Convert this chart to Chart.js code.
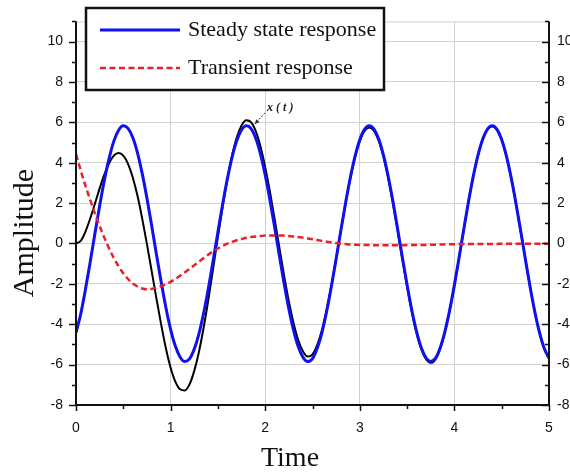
<!DOCTYPE html>
<html>
<head>
<meta charset="utf-8">
<script src="https://cdn.jsdelivr.net/npm/chart.js@4.4.1/dist/chart.umd.min.js"></script>
<style>
    html, body { margin: 0; padding: 0; background: #ffffff; }
    #responseChart { display: block; }
</style>
</head>
<body>
<canvas id="responseChart" width="570" height="472"></canvas>
<script>

// sample times (s)
const timeValues = [
    0.00, 0.05, 0.10, 0.15, 0.20, 0.25, 0.30, 0.35, 0.40, 0.45,
    0.50, 0.55, 0.60, 0.65, 0.70, 0.75, 0.80, 0.85, 0.90, 0.95,
    1.00, 1.05, 1.10, 1.15, 1.20, 1.25, 1.30, 1.35, 1.40, 1.45,
    1.50, 1.55, 1.60, 1.65, 1.70, 1.75, 1.80, 1.85, 1.90, 1.95,
    2.00, 2.05, 2.10, 2.15, 2.20, 2.25, 2.30, 2.35, 2.40, 2.45,
    2.50, 2.55, 2.60, 2.65, 2.70, 2.75, 2.80, 2.85, 2.90, 2.95,
    3.00, 3.05, 3.10, 3.15, 3.20, 3.25, 3.30, 3.35, 3.40, 3.45,
    3.50, 3.55, 3.60, 3.65, 3.70, 3.75, 3.80, 3.85, 3.90, 3.95,
    4.00, 4.05, 4.10, 4.15, 4.20, 4.25, 4.30, 4.35, 4.40, 4.45,
    4.50, 4.55, 4.60, 4.65, 4.70, 4.75, 4.80, 4.85, 4.90, 4.95,
    5.00
];

const steadyState = [
    -4.42, -3.49, -2.27, -0.92, 0.49, 1.87, 3.14, 4.22, 5.07, 5.61,
    5.83, 5.70, 5.25, 4.49, 3.46, 2.24, 0.88, -0.53, -1.90, -3.17,
    -4.25, -5.08, -5.62, -5.85, -5.72, -5.23, -4.46, -3.43, -2.20, -0.84,
    0.57, 1.94, 3.20, 4.28, 5.10, 5.63, 5.83, 5.69, 5.21, 4.43,
    3.39, 2.16, 0.80, -0.61, -1.98, -3.24, -4.30, -5.12, -5.64, -5.85,
    -5.70, -5.19, -4.41, -3.36, -2.12, -0.76, 0.65, 2.02, 3.27, 4.33,
    5.14, 5.65, 5.83, 5.67, 5.18, 4.38, 3.33, 2.09, 0.72, -0.69,
    -2.06, -3.31, -4.36, -5.16, -5.66, -5.85, -5.68, -5.16, -4.35, -3.30,
    -2.05, -0.68, 0.73, 2.10, 3.34, 4.39, 5.18, 5.67, 5.83, 5.65,
    5.14, 4.33, 3.26, 2.01, 0.64, -0.77, -2.14, -3.38, -4.42, -5.20,
    -5.68
];

const transient = [
    4.42, 3.62, 2.86, 2.16, 1.48, 0.86, 0.28, -0.25, -0.72, -1.13,
    -1.48, -1.76, -1.98, -2.13, -2.23, -2.27, -2.25, -2.19, -2.11, -2.02,
    -1.90, -1.76, -1.60, -1.43, -1.26, -1.08, -0.90, -0.72, -0.55, -0.39,
    -0.25, -0.12, -0.01, 0.08, 0.16, 0.22, 0.28, 0.32, 0.35, 0.37,
    0.39, 0.40, 0.40, 0.40, 0.39, 0.37, 0.35, 0.32, 0.29, 0.25,
    0.21, 0.17, 0.13, 0.09, 0.05, 0.02, -0.01, -0.03, -0.05, -0.06,
    -0.07, -0.08, -0.08, -0.09, -0.09, -0.09, -0.09, -0.09, -0.09, -0.09,
    -0.08, -0.08, -0.08, -0.07, -0.07, -0.06, -0.06, -0.05, -0.05, -0.04,
    -0.04, -0.03, -0.03, -0.02, -0.02, -0.02, -0.02, -0.02, -0.02, -0.02,
    -0.01, -0.01, -0.01, -0.01, -0.01, -0.01, -0.01, -0.01, -0.01, -0.01,
    -0.01
];

// x(t) = steady state + transient
const totalResponse = [
    0.00, 0.13, 0.59, 1.24, 1.97, 2.73, 3.42, 3.97, 4.35, 4.48,
    4.35, 3.94, 3.27, 2.36, 1.23, -0.03, -1.37, -2.72, -4.01, -5.19,
    -6.15, -6.84, -7.22, -7.28, -6.98, -6.31, -5.36, -4.15, -2.75, -1.23,
    0.32, 1.82, 3.19, 4.36, 5.26, 5.85, 6.11, 6.01, 5.56, 4.80,
    3.78, 2.56, 1.20, -0.21, -1.59, -2.87, -3.95, -4.80, -5.35, -5.60,
    -5.49, -5.02, -4.28, -3.27, -2.07, -0.74, 0.64, 1.99, 3.22, 4.27,
    5.07, 5.57, 5.75, 5.58, 5.09, 4.29, 3.24, 2.00, 0.63, -0.78,
    -2.14, -3.39, -4.44, -5.23, -5.73, -5.91, -5.74, -5.21, -4.40, -3.34,
    -2.09, -0.71, 0.70, 2.08, 3.32, 4.37, 5.16, 5.65, 5.81, 5.63,
    5.13, 4.32, 3.25, 2.00, 0.63, -0.78, -2.15, -3.39, -4.43, -5.21,
    -5.69
];

const xTickValues = [0, 1, 2, 3, 4, 5];
const yTickValues = [-8, -6, -4, -2, 0, 2, 4, 6, 8, 10];

const xRange = [0, 5];
const yRange = [-8, 11];

// pointer label for the x(t) curve: [time, amplitude] of arrow tip and text
const curveTag = { text: "x ( t )", tip: [1.89, 5.92], label: [2.02, 6.72] };


function toPoints(values) {
    return values.map((v, i) => ({ x: timeValues[i], y: v }));
}


const frameAndTicks = {
    /**
     * axis lines, tick marks and axis titles
     */
    id: 'frameAndTicks',
    afterDatasetsDraw(chart) {
        const ctx = chart.ctx;
        const area = chart.chartArea;
        const xs = chart.scales.x;
        const ys = chart.scales.y;

        ctx.save();

        // light top edge
        ctx.strokeStyle = '#cfcfcf';
        ctx.lineWidth = 1;
        ctx.beginPath();
        ctx.moveTo(area.left, area.top + 0.5);
        ctx.lineTo(area.right, area.top + 0.5);
        ctx.stroke();

        ctx.strokeStyle = '#111';
        ctx.lineWidth = 2;
        ctx.beginPath();
        ctx.moveTo(area.left, area.top);
        ctx.lineTo(area.left, area.bottom);
        ctx.lineTo(area.right, area.bottom);
        ctx.moveTo(area.right, area.top);
        ctx.lineTo(area.right, area.bottom);
        ctx.stroke();

        ctx.lineWidth = 1.5;
        ctx.beginPath();
        for (let v = yRange[0]; v <= yRange[1]; v++) {
            const py = Math.round(ys.getPixelForValue(v)) + 0.5;
            const len = (v % 2 === 0) ? 7 : 4;
            ctx.moveTo(area.left - len, py);
            ctx.lineTo(area.left, py);
            ctx.moveTo(area.right - len, py);
            ctx.lineTo(area.right, py);
        }
        for (let v = xRange[0]; v <= xRange[1] + 0.01; v += 0.5) {
            const px = Math.round(xs.getPixelForValue(v)) + 0.5;
            const len = (Math.abs(v - Math.round(v)) < 0.01) ? 6 : 4;
            ctx.moveTo(px, area.bottom);
            ctx.lineTo(px, area.bottom + len);
        }
        ctx.stroke();

        // axis titles
        ctx.fillStyle = '#111';
        ctx.font = '28px "Liberation Serif"';
        ctx.textAlign = 'center';
        ctx.textBaseline = 'alphabetic';
        ctx.fillText('Time', 290, 466);

        ctx.font = '30px "Liberation Serif"';
        ctx.translate(33, 233);
        ctx.rotate(-Math.PI / 2);
        ctx.fillText('Amplitude', 0, 0);

        ctx.restore();
    }
};


const curveLabel = {
    /**
     * small arrow + text pointing at x(t)
     */
    id: 'curveLabel',
    afterDatasetsDraw(chart) {
        const ctx = chart.ctx;
        const xs = chart.scales.x;
        const ys = chart.scales.y;
        const tipX = xs.getPixelForValue(curveTag.tip[0]);
        const tipY = ys.getPixelForValue(curveTag.tip[1]);
        const txtX = xs.getPixelForValue(curveTag.label[0]);
        const txtY = ys.getPixelForValue(curveTag.label[1]);
        const startX = txtX - 2;
        const startY = txtY + 5;

        ctx.save();
        ctx.strokeStyle = '#333';
        ctx.lineWidth = 1;
        ctx.setLineDash([2, 1.5]);
        ctx.beginPath();
        ctx.moveTo(startX, startY);
        ctx.lineTo(tipX, tipY);
        ctx.stroke();
        ctx.setLineDash([]);

        const ang = Math.atan2(tipY - startY, tipX - startX);
        ctx.fillStyle = '#333';
        ctx.beginPath();
        ctx.moveTo(tipX, tipY);
        ctx.lineTo(tipX - 5 * Math.cos(ang - 0.45), tipY - 5 * Math.sin(ang - 0.45));
        ctx.lineTo(tipX - 5 * Math.cos(ang + 0.45), tipY - 5 * Math.sin(ang + 0.45));
        ctx.closePath();
        ctx.fill();

        ctx.fillStyle = '#222';
        ctx.font = 'italic bold 12px "Liberation Serif"';
        ctx.textAlign = 'left';
        ctx.textBaseline = 'middle';
        ctx.fillText(curveTag.text, txtX, txtY);
        ctx.restore();
    }
};


const legendBox = {
    /**
     * boxed legend at the top left, built from the datasets
     */
    id: 'legendBox',
    afterDraw(chart) {
        const ctx = chart.ctx;
        const items = chart.data.datasets.filter(ds => ds.inLegend)
            .sort((a, b) => a.legendRank - b.legendRank);
        const box = { x: 86, y: 8, w: 298, h: 82 };
        const rows = [30, 68];

        ctx.save();
        ctx.fillStyle = '#ffffff';
        ctx.fillRect(box.x, box.y, box.w, box.h);
        ctx.strokeStyle = '#111';
        ctx.lineWidth = 2.5;
        ctx.strokeRect(box.x, box.y, box.w, box.h);

        items.forEach((ds, i) => {
            const y = rows[i];
            ctx.strokeStyle = ds.borderColor;
            ctx.lineWidth = ds.borderWidth;
            ctx.setLineDash(ds.borderDash || []);
            ctx.beginPath();
            ctx.moveTo(100, y);
            ctx.lineTo(180, y);
            ctx.stroke();
            ctx.setLineDash([]);

            ctx.fillStyle = '#111';
            ctx.font = '22px "Liberation Serif"';
            ctx.textAlign = 'left';
            ctx.textBaseline = 'middle';
            ctx.fillText(ds.label, 188, y);
        });
        ctx.restore();
    }
};


function drawChart() {
    const ctx = document.getElementById('responseChart').getContext('2d');
    const tickFont = { family: 'Liberation Sans', size: 14 };

    const chart = new Chart(ctx, {
        type: 'line',
        data: {
            datasets: [
                {
                    label: 'Transient response',
                    data: toPoints(transient),
                    borderColor: '#e8202a',
                    borderWidth: 2.5,
                    borderDash: [6, 3.5],
                    inLegend: true,
                    legendRank: 2,
                    order: 1,
                },
                {
                    label: 'Steady state response',
                    data: toPoints(steadyState),
                    borderColor: '#1010f0',
                    borderWidth: 3,
                    inLegend: true,
                    legendRank: 1,
                    order: 2,
                },
                {
                    label: 'x(t)',
                    data: toPoints(totalResponse),
                    borderColor: '#000000',
                    borderWidth: 2,
                    inLegend: false,
                    order: 3,
                },
            ],
        },
        options: {
            responsive: false,
            animation: false,
            devicePixelRatio: 1,
            layout: { padding: { top: 16, left: 0, right: 0, bottom: 0 } },
            elements: {
                point: { radius: 0 },
                line: { cubicInterpolationMode: 'monotone', fill: false },
            },
            plugins: {
                legend: { display: false },
                tooltip: { enabled: false },
            },
            scales: {
                x: {
                    type: 'linear',
                    position: 'bottom',
                    min: xRange[0],
                    max: xRange[1],
                    afterBuildTicks: (scale) => { scale.ticks = xTickValues.map(v => ({ value: v })); },
                    afterFit: (scale) => { scale.height = 67; },
                    ticks: { font: tickFont, color: '#111', padding: 15, maxRotation: 0 },
                    grid: { color: '#d2d2d2', lineWidth: 1, drawTicks: false },
                    border: { display: false },
                },
                y: {
                    type: 'linear',
                    position: 'left',
                    min: yRange[0],
                    max: yRange[1],
                    afterBuildTicks: (scale) => { scale.ticks = yTickValues.map(v => ({ value: v })); },
                    afterFit: (scale) => { scale.width = 76; },
                    ticks: { font: tickFont, color: '#111', padding: 13 },
                    grid: { color: '#d2d2d2', lineWidth: 1, drawTicks: false },
                    border: { display: false },
                },
                y2: {
                    type: 'linear',
                    position: 'right',
                    min: yRange[0],
                    max: yRange[1],
                    afterBuildTicks: (scale) => { scale.ticks = yTickValues.map(v => ({ value: v })); },
                    afterFit: (scale) => { scale.width = 21; },
                    ticks: { font: tickFont, color: '#111', padding: 8 },
                    grid: { display: false, drawTicks: false },
                    border: { display: false },
                },
            },
        },
        plugins: [frameAndTicks, curveLabel, legendBox],
    });
}

document.addEventListener("DOMContentLoaded", () => {
    drawChart();
})
</script>
</body>
</html>
